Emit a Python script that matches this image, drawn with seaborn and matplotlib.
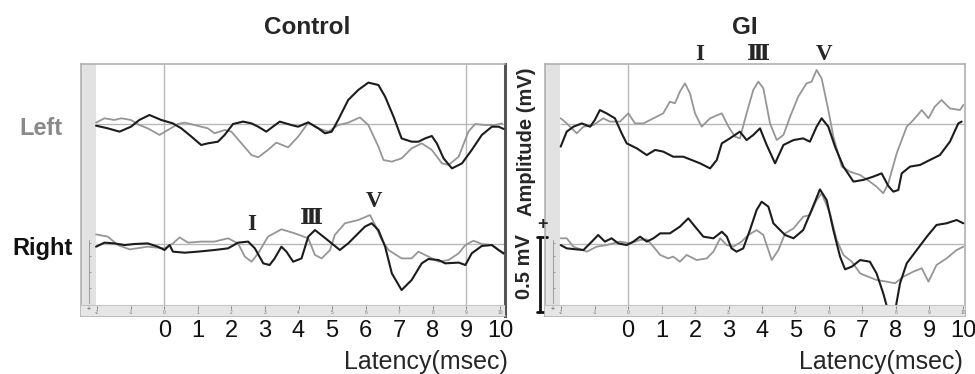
import numpy as np
import pandas as pd
import matplotlib
matplotlib.use("Agg")
import matplotlib.pyplot as plt
import seaborn as sns

# ---------------- data (latency in ms, amplitude in mV) ----------------
ctrl_left_black_x = [-2.03, -1.68, -1.33, -0.99, -0.74, -0.44, -0.09, 0.26, 0.51, 0.81, 1.10, 1.30, 1.60, 1.80,
                     2.05, 2.35, 2.60, 2.80, 3.04, 3.44, 3.79, 3.99, 4.29, 4.59, 4.79, 4.99, 5.18, 5.48, 5.78,
                     6.08, 6.38, 6.58, 6.83, 7.07, 7.37, 7.57, 7.77, 7.97, 8.12, 8.32, 8.57, 8.87, 9.16, 9.46,
                     9.76, 9.96, 10.11]
ctrl_left_black_y = [-0.011, -0.029, -0.051, -0.018, 0.027, 0.060, 0.027, 0.004, -0.029, -0.084, -0.140, -0.129,
                     -0.118, -0.073, 0.000, 0.016, 0.004, -0.018, -0.051, 0.016, -0.007, -0.018, 0.011, -0.029,
                     -0.062, -0.051, 0.027, 0.160, 0.227, 0.276, 0.260, 0.182, 0.049, -0.096, -0.118, -0.118,
                     -0.096, -0.080, -0.129, -0.229, -0.296, -0.262, -0.173, -0.073, -0.018, -0.018, -0.033]

ctrl_left_gray_x = [-2.03, -1.78, -1.48, -1.28, -0.99, -0.74, -0.49, -0.14, 0.11, 0.41, 0.61, 0.91, 1.30, 1.50,
                    1.80, 2.00, 2.30, 2.60, 2.80, 3.09, 3.34, 3.69, 3.99, 4.29, 4.59, 4.89, 5.18, 5.48, 5.83,
                    6.08, 6.38, 6.53, 6.78, 7.07, 7.37, 7.67, 7.97, 8.27, 8.47, 8.77, 9.06, 9.26, 9.56, 9.86,
                    10.06]
ctrl_left_gray_y = [0.009, 0.038, 0.027, 0.038, 0.027, -0.007, -0.029, -0.073, -0.040, 0.000, 0.009, -0.007,
                    -0.029, -0.062, -0.040, -0.051, -0.129, -0.207, -0.222, -0.173, -0.124, -0.156, -0.084,
                    0.009, -0.029, -0.051, -0.007, 0.009, 0.044, -0.007, -0.151, -0.240, -0.251, -0.229,
                    -0.162, -0.129, -0.173, -0.262, -0.273, -0.218, -0.051, 0.000, -0.007, -0.007, 0.004]

ctrl_right_black_x = [-2.03, -1.78, -1.48, -1.18, -0.89, -0.49, -0.19, 0.01, 0.16, 0.26, 0.61, 1.00, 1.50, 1.90,
                      2.20, 2.50, 2.70, 2.95, 3.14, 3.29, 3.49, 3.64, 3.84, 4.09, 4.29, 4.49, 4.74, 4.99, 5.23,
                      5.48, 5.68, 5.98, 6.18, 6.38, 6.58, 6.78, 7.07, 7.37, 7.67, 7.87, 8.17, 8.37, 8.77, 8.97,
                      9.16, 9.46, 9.76, 9.96, 10.11]
ctrl_right_black_y = [-0.018, 0.009, 0.004, -0.007, 0.000, 0.004, -0.018, -0.040, -0.007, -0.051, -0.058, -0.051,
                      -0.040, -0.029, 0.009, 0.016, -0.029, -0.129, -0.140, -0.096, -0.018, -0.051, -0.118,
                      -0.096, 0.049, 0.093, 0.049, 0.004, -0.040, 0.004, 0.049, 0.116, 0.138, 0.093, -0.018,
                      -0.196, -0.307, -0.240, -0.129, -0.100, -0.107, -0.129, -0.124, -0.140, -0.062, -0.013,
                      -0.007, -0.040, -0.062]

ctrl_right_gray_x = [-2.03, -1.68, -1.38, -1.03, -0.49, 0.01, 0.26, 0.46, 0.71, 1.10, 1.50, 1.90, 2.20, 2.40,
                     2.60, 2.80, 3.09, 3.49, 3.89, 4.29, 4.49, 4.69, 4.94, 5.08, 5.38, 5.78, 6.13, 6.28, 6.48,
                     6.68, 7.07, 7.37, 7.57, 7.87, 8.17, 8.47, 8.77, 8.97, 9.21, 9.46, 9.76, 10.11]
ctrl_right_gray_y = [0.064, 0.049, -0.007, -0.036, -0.018, -0.029, 0.004, 0.044, 0.009, 0.016, 0.016, 0.038,
                     0.004, -0.084, -0.118, -0.062, 0.049, 0.098, 0.071, 0.038, -0.073, -0.096, -0.040, 0.060,
                     0.138, 0.160, 0.193, 0.127, 0.027, -0.040, -0.096, -0.096, -0.051, -0.084, -0.118, -0.107,
                     -0.062, -0.007, 0.022, 0.000, -0.007, -0.067]

gi_left_black_x = [-2.01, -1.83, -1.63, -1.38, -1.13, -0.99, -0.84, -0.64, -0.39, -0.19, -0.04, 0.26, 0.56, 0.81,
                   1.05, 1.35, 1.65, 1.90, 2.15, 2.45, 2.65, 2.80, 3.04, 3.34, 3.54, 3.74, 3.94, 4.14, 4.39,
                   4.64, 4.94, 5.23, 5.43, 5.63, 5.78, 5.98, 6.18, 6.43, 6.73, 7.02, 7.32, 7.57, 7.77, 7.92,
                   8.07, 8.17, 8.42, 8.72, 9.01, 9.31, 9.61, 9.86, 9.96]
gi_left_black_y = [-0.151, -0.051, -0.018, 0.004, -0.018, 0.027, 0.093, 0.071, 0.038, -0.062, -0.129, -0.162,
                   -0.207, -0.173, -0.184, -0.218, -0.218, -0.240, -0.262, -0.296, -0.240, -0.129, -0.096,
                   -0.051, -0.107, -0.073, -0.029, -0.140, -0.262, -0.140, -0.107, -0.096, -0.118, -0.018,
                   0.038, -0.018, -0.151, -0.284, -0.384, -0.373, -0.351, -0.329, -0.413, -0.451, -0.440,
                   -0.329, -0.284, -0.273, -0.240, -0.207, -0.118, 0.004, 0.016]

gi_left_gray_x = [-2.01, -1.83, -1.53, -1.33, -1.03, -0.74, -0.54, -0.24, 0.01, 0.21, 0.46, 0.76, 1.05, 1.25,
                  1.40, 1.55, 1.70, 1.85, 2.00, 2.20, 2.45, 2.80, 3.00, 3.19, 3.34, 3.54, 3.74, 3.89, 4.04,
                  4.24, 4.44, 4.64, 4.84, 5.08, 5.33, 5.48, 5.63, 5.78, 5.98, 6.13, 6.38, 6.63, 6.93, 7.22,
                  7.42, 7.62, 7.77, 8.02, 8.32, 8.52, 8.77, 8.97, 9.16, 9.36, 9.61, 9.91, 10.01]
gi_left_gray_y = [0.038, 0.004, -0.062, -0.018, -0.007, 0.038, 0.016, 0.016, 0.071, 0.004, 0.004, 0.038, 0.071,
                  0.149, 0.138, 0.216, 0.271, 0.204, 0.071, -0.018, 0.038, 0.071, -0.018, -0.084, -0.096,
                  0.071, 0.227, 0.282, 0.238, 0.004, -0.107, -0.073, 0.049, 0.182, 0.271, 0.282, 0.360,
                  0.304, 0.093, -0.084, -0.284, -0.318, -0.340, -0.384, -0.418, -0.462, -0.396, -0.196,
                  -0.018, 0.027, 0.093, 0.038, 0.116, 0.160, 0.104, 0.093, 0.127]

gi_right_black_x = [-2.01, -1.83, -1.53, -1.33, -1.08, -0.89, -0.69, -0.49, -0.29, -0.04, 0.16, 0.36, 0.56, 0.76,
                    0.96, 1.25, 1.55, 1.80, 2.00, 2.25, 2.55, 2.80, 2.95, 3.09, 3.24, 3.44, 3.64, 3.84, 3.99,
                    4.19, 4.34, 4.54, 4.69, 4.94, 5.23, 5.48, 5.73, 5.93, 6.13, 6.33, 6.48, 6.68, 6.93, 7.22,
                    7.42, 7.62, 7.77, 7.87, 7.97, 8.12, 8.32, 8.62, 8.92, 9.21, 9.51, 9.81, 10.01]
gi_right_black_y = [-0.007, -0.029, -0.036, -0.040, 0.016, 0.060, 0.016, 0.038, 0.004, -0.007, 0.016, 0.049,
                    0.016, 0.038, 0.071, 0.071, 0.116, 0.171, 0.116, 0.049, 0.038, 0.082, 0.049, -0.029,
                    -0.051, -0.029, 0.093, 0.227, 0.282, 0.249, 0.138, 0.093, 0.060, 0.038, 0.093, 0.227,
                    0.364, 0.293, 0.093, -0.084, -0.169, -0.151, -0.107, -0.118, -0.196, -0.329, -0.451,
                    -0.507, -0.451, -0.262, -0.129, -0.040, 0.049, 0.127, 0.138, 0.160, 0.138]

gi_right_gray_x = [-2.01, -1.83, -1.63, -1.23, -0.94, -0.64, -0.24, 0.06, 0.36, 0.56, 0.76, 0.96, 1.20, 1.35,
                   1.55, 1.75, 2.05, 2.35, 2.55, 2.75, 2.95, 3.14, 3.39, 3.59, 3.84, 4.04, 4.29, 4.49, 4.69,
                   4.94, 5.23, 5.43, 5.63, 5.78, 6.03, 6.23, 6.43, 6.68, 6.93, 7.17, 7.42, 7.72, 7.97, 8.22,
                   8.52, 8.77, 8.97, 9.21, 9.51, 9.81, 10.01]
gi_right_gray_y = [0.038, 0.038, -0.018, -0.051, -0.018, -0.007, 0.016, 0.004, 0.027, 0.031, -0.018, -0.073,
                   -0.096, -0.084, -0.118, -0.073, -0.107, -0.096, -0.051, 0.038, -0.007, -0.018, 0.016,
                   0.060, 0.093, 0.060, -0.107, -0.040, 0.071, 0.104, 0.182, 0.193, 0.293, 0.338, 0.204,
                   0.027, -0.073, -0.118, -0.196, -0.218, -0.240, -0.251, -0.262, -0.218, -0.184, -0.162,
                   -0.251, -0.140, -0.096, -0.040, -0.018]

panel_titles = ["Control", "GI"]
row_labels = ["Left", "Right"]
tick_values = list(range(0, 11))
ruler_values = list(range(-2, 11))
wave_labels = ["I", "\u2162", "V"]
LEFT_OFFSET = 0.8      # mV vertical offset of the "Left" ear traces
SCALE_BAR = 0.5        # mV

# ---------------- styling ----------------
sns.set_theme(style="white")
plt.rcParams["font.family"] = ["Liberation Sans", "DejaVu Sans"]

W, H = 975, 374
fig = plt.figure(figsize=(W / 100, H / 100), dpi=100)


def fx(px):
    return px / W


def fy(py):
    return 1 - py / H


axL = fig.add_axes([fx(81), fy(316), 424 / W, 252 / H])
axR = fig.add_axes([fx(545), fy(316), 420 / W, 252 / H])

BLACK = "#1c1c1c"
GRAY = "#969696"
GRID = "#b8b8b8"

panels = [
    (axL, (-2.478, 10.15), [0, 9],
     [(ctrl_left_black_x, ctrl_left_black_y, BLACK, True), (ctrl_left_gray_x, ctrl_left_gray_y, GRAY, True),
      (ctrl_right_gray_x, ctrl_right_gray_y, GRAY, False), (ctrl_right_black_x, ctrl_right_black_y, BLACK, False)]),
    (axR, (-2.478, 10.06), [0],
     [(gi_left_black_x, gi_left_black_y, BLACK, True), (gi_left_gray_x, gi_left_gray_y, GRAY, True),
      (gi_right_gray_x, gi_right_gray_y, GRAY, False), (gi_right_black_x, gi_right_black_y, BLACK, False)]),
]

YLIM = (-0.48, 1.2)
STRIP_TOP = -0.407
for ax, xlim, vgrid, traces in panels:
    ax.set_xlim(*xlim)
    ax.set_ylim(*YLIM)
    # gray side strip and bottom ruler strip
    ax.axvspan(xlim[0], -2.03, color="#e2e2e2", lw=0, zorder=0)
    ax.axhspan(YLIM[0], STRIP_TOP, color="#e6e6e6", lw=0, zorder=6)
    ax.axhline(STRIP_TOP, color="#c4c4c4", lw=0.8, zorder=6)
    ax.hlines([0, LEFT_OFFSET], -2.03, xlim[1], color=GRID, lw=1.0, zorder=1)
    ax.vlines(vgrid, STRIP_TOP, YLIM[1], color=GRID, lw=1.0, zorder=1)
    for xs, ys, col, upper in traces:
        df = pd.DataFrame({"latency": xs, "amp": np.array(ys) + (LEFT_OFFSET if upper else 0.0)})
        sns.lineplot(data=df, x="latency", y="amp", ax=ax, color=col, estimator=None, sort=False,
                     lw=1.5 if col == BLACK else 1.3, zorder=3 + (col == BLACK))
    # ruler ticks and tiny labels
    ax.vlines(ruler_values, STRIP_TOP - 0.008, STRIP_TOP - 0.025, color="#777777", lw=0.6, zorder=7)
    for v in ruler_values:
        ax.text(v, STRIP_TOP - 0.05, str(v), fontsize=3.5, color="#777777", ha="center", va="center", zorder=7)
    # small instrument scale in the side strip
    sx = -2.25
    ax.plot([sx, sx], [-0.393, 0.027], color="#9a9a9a", lw=0.7, zorder=2)
    ax.hlines([0.007, -0.08, -0.187, -0.293], sx, sx + 0.08, color="#9a9a9a", lw=0.7, zorder=2)
    ax.text(-2.25, (YLIM[0] + STRIP_TOP) / 2 + 0.01, "+", fontsize=5, color="#555555", ha="center",
            va="center", zorder=7)
    ax.set_xticks(tick_values)
    ax.set_xticklabels([str(t) for t in tick_values], fontsize=17)
    ax.tick_params(axis="x", length=0, pad=3, colors="#111111")
    ax.set_yticks([])
    ax.set_xlabel("")
    ax.set_ylabel("")
    for s in ax.spines.values():
        s.set_color("#b0b0b0")
        s.set_linewidth(1.2)
        s.set_visible(True)

axL.spines["right"].set_color("#555555")
axL.spines["right"].set_linewidth(2.2)

# scale bar (0.5 mV) left of GI panel
bx = -2.62
axR.plot([bx, bx], [-0.453, -0.453 + SCALE_BAR], color="#111111", lw=2.0, clip_on=False)
axR.plot([bx - 0.1, bx + 0.2], [-0.453, -0.453], color="#111111", lw=2.0, clip_on=False)
axR.plot([bx - 0.1, bx + 0.2], [-0.453 + SCALE_BAR] * 2, color="#111111", lw=2.0, clip_on=False)

# ---------------- text ----------------
fig.text(fx(307), fy(27), panel_titles[0], fontsize=17.5, fontweight="bold", ha="center", va="center")
fig.text(fx(745), fy(27), panel_titles[1], fontsize=17.5, fontweight="bold", ha="center", va="center")
fig.text(fx(63), fy(128.5), row_labels[0], fontsize=17, fontweight="bold", color="#8a8a8a", ha="right", va="center")
fig.text(fx(73), fy(248), row_labels[1], fontsize=17, fontweight="bold", color="#111111", ha="right", va="center")
fig.text(fx(508), fy(362), "Latency(msec)", fontsize=18, ha="right", va="center")
fig.text(fx(963), fy(362), "Latency(msec)", fontsize=18, ha="right", va="center")
fig.text(fx(526), fy(142), "Amplitude (mV)", fontsize=14.5, fontweight="bold", rotation=90, ha="center", va="center")
fig.text(fx(525), fy(267), "0.5 mV", fontsize=14.5, fontweight="bold", rotation=90, ha="center", va="center")
fig.text(fx(542), fy(225), "+", fontsize=13, fontweight="bold", ha="center", va="center")

serif = ["Liberation Serif", "DejaVu Serif", "Noto Sans CJK JP"]
for lab, (px, py) in zip(wave_labels, [(251.5, 224.7), (311.5, 219), (373.5, 201)]):
    fig.text(fx(px), fy(py), lab, fontsize=16.5, fontweight="bold", family=serif, ha="center", va="center")
for lab, (px, py) in zip(wave_labels, [(700, 55), (758, 55), (823.5, 55)]):
    fig.text(fx(px), fy(py), lab, fontsize=16.5, fontweight="bold", family=serif, ha="center", va="center")

fig.savefig("out.png", dpi=100)
